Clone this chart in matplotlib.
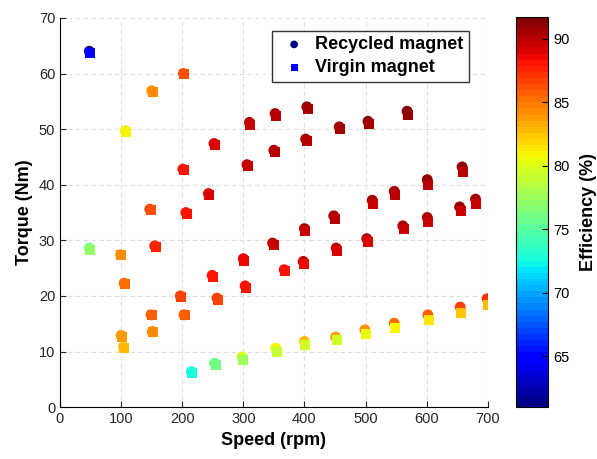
import numpy as np
import matplotlib.pyplot as plt

plt.rcParams['font.family'] = ['Liberation Sans', 'DejaVu Sans']

# speed (rpm) and torque (Nm), efficiency (%) for recycled / virgin magnets
speed = np.array([48, 202, 150, 107, 310, 352, 252, 350, 201, 306, 243, 147, 206,
                  404, 457, 504, 568, 402, 658, 601, 547, 511, 680, 654, 448, 601,
                  400, 561, 502, 452, 398, 367, 699, 655, 602, 547, 499, 451, 400,
                  48, 99, 105, 155, 197, 249, 257, 300, 303, 348, 203, 149, 151,
                  100, 104, 215, 253, 298, 353])
torque_rec = np.array([64.0, 60.0, 56.9, 49.7, 51.2, 52.8, 47.4, 46.2, 42.8, 43.6, 38.4, 35.6, 35.0,
                       54.0, 50.4, 51.4, 53.2, 48.2, 43.2, 40.9, 38.8, 37.2, 37.4, 36.0, 34.4, 34.1,
                       32.1, 32.6, 30.3, 28.6, 26.2, 24.7, 19.5, 18.0, 16.6, 15.1, 13.9, 12.6, 11.8,
                       28.6, 27.4, 22.3, 29.0, 20.0, 23.7, 19.6, 26.7, 21.8, 29.5, 16.6, 16.6, 13.6,
                       12.9, 10.8, 6.4, 7.9, 9.0, 10.6])
torque_vir = np.array([63.6, 59.9, 56.7, 49.5, 50.8, 52.4, 47.2, 45.8, 42.6, 43.3, 38.2, 35.5, 34.7,
                       53.6, 50.0, 50.9, 52.6, 47.8, 42.3, 40.0, 38.2, 36.6, 36.6, 35.3, 33.8, 33.3,
                       31.7, 32.0, 29.7, 28.0, 25.8, 24.4, 18.3, 17.0, 15.6, 14.2, 13.1, 12.0, 11.1,
                       28.2, 27.3, 22.1, 28.8, 19.8, 23.4, 19.3, 26.3, 21.4, 29.2, 16.5, 16.5, 13.5,
                       12.6, 10.6, 6.2, 7.6, 8.5, 9.9])
eff_rec = np.array([61.0, 86.0, 84.0, 81.3, 90.0, 90.6, 89.3, 90.3, 88.0, 89.8, 89.3, 86.5, 88.2,
                    91.0, 90.6, 91.3, 91.5, 90.6, 91.0, 91.0, 90.6, 90.6, 90.6, 91.0, 90.6, 90.6,
                    90.6, 90.3, 90.0, 89.8, 89.8, 88.5, 87.2, 86.9, 85.8, 85.3, 84.5, 83.6, 82.8,
                    76.0, 84.0, 85.0, 87.5, 86.5, 88.0, 86.8, 88.8, 88.3, 89.8, 85.8, 85.8, 84.5,
                    84.0, 82.5, 72.8, 75.5, 80.0, 81.0])
eff_vir = np.array([64.5, 86.0, 84.2, 81.0, 89.6, 90.2, 89.0, 89.9, 88.0, 89.5, 89.0, 86.3, 88.0,
                    90.7, 90.3, 90.7, 91.0, 90.2, 89.9, 90.2, 89.8, 89.5, 89.5, 89.5, 89.8, 89.5,
                    89.5, 89.5, 89.3, 89.0, 88.8, 88.2, 82.8, 82.2, 81.3, 80.9, 80.5, 79.6, 79.4,
                    77.0, 84.2, 85.2, 87.5, 86.5, 88.0, 86.8, 88.6, 88.2, 89.5, 85.8, 85.8, 84.5,
                    84.0, 83.0, 72.8, 76.0, 77.5, 79.0])

cmap = plt.get_cmap('jet', 64)
vmin, vmax = 61.0, 91.7

fig = plt.figure(figsize=(5.97, 4.59), dpi=100)
ax = fig.add_axes([0.1005, 0.113, 0.7165, 0.848])
cax = fig.add_axes([0.864, 0.113, 0.054, 0.85])

ax.scatter(speed, torque_rec, c=eff_rec, cmap=cmap, vmin=vmin, vmax=vmax,
           marker='o', s=62, linewidths=0, label='Recycled magnet', zorder=3)
sc = ax.scatter(speed + 1.5, torque_vir, c=eff_vir, cmap=cmap, vmin=vmin, vmax=vmax,
                marker='s', s=52, linewidths=0, label='Virgin magnet', zorder=4)

ax.set_xlim(0, 700)
ax.set_ylim(0, 70)
ax.set_xticks(np.arange(0, 701, 100))
ax.set_yticks(np.arange(0, 71, 10))
ax.grid(True, linestyle=(0, (4, 3)), color='#dedede', linewidth=0.8)
ax.set_axisbelow(True)
for side in ['top', 'right']:
    ax.spines[side].set_visible(False)
ax.tick_params(labelsize=10.5, direction='in', length=4, colors='#262626')
ax.set_xlabel('Speed (rpm)', fontsize=13, fontweight='bold')
ax.set_ylabel('Torque (Nm)', fontsize=13, fontweight='bold')

leg = ax.legend(loc='upper right', bbox_to_anchor=(0.956, 0.967),
                prop={'weight': 'bold', 'size': 13}, fancybox=False, edgecolor='#333333',
                framealpha=1, handlelength=1.9, handletextpad=0.22, borderpad=0.3,
                labelspacing=0.35, markerscale=0.7, borderaxespad=0)
leg.get_frame().set_linewidth(1.0)

cb = fig.colorbar(sc, cax=cax)
cb.set_ticks([65, 70, 75, 80, 85, 90])
cb.ax.tick_params(labelsize=10.5, direction='in', length=4)
cb.set_label('Efficiency (%)', fontsize=13, fontweight='bold', labelpad=8)
cb.outline.set_linewidth(0.8)

fig.savefig('out.png', dpi=100)
